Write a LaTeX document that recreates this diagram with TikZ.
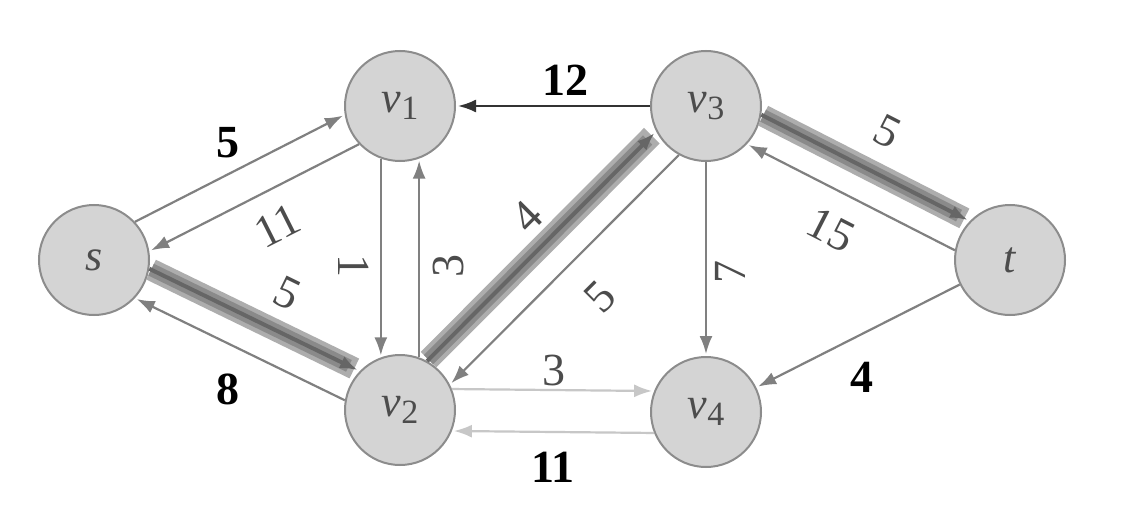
\documentclass[tikz,border=0pt]{standalone}
\usepackage{fontspec}
\setmainfont{Liberation Serif}
\usetikzlibrary{arrows.meta}
\begin{document}
\begin{tikzpicture}[x=0.5pt,y=-0.5pt,
  vert/.style={circle,draw=black!45,line width=1pt,fill=black!17,minimum size=55pt,inner sep=0pt,text=black!70,font=\fontsize{22}{22}\selectfont\itshape},
  tip/.style={-{Latex[length=9pt,width=6.5pt]}},
  thin/.style={draw=black!50,line width=1.1pt,tip,shorten >=1pt},
  pale/.style={draw=black!22,line width=1.1pt,tip,shorten >=1pt},
  darkline/.style={draw=black!80,line width=1.1pt,tip,shorten >=1pt},
  bandout/.style={draw=black!32,line width=11pt,shorten >=3pt,shorten <=1pt},
  bandmid/.style={draw=black!46,line width=6.5pt,shorten >=6pt,shorten <=1pt},
  bandcore/.style={draw=black!60,line width=2pt,tip,shorten >=1pt},
  glbl/.style={text=black!70,font=\fontsize{23}{23}\selectfont,inner sep=0pt},
  blbl/.style={text=black,font=\fontsize{23}{23}\selectfont\bfseries,inner sep=0pt}
]
\useasboundingbox (0,0) rectangle (1129,519);
\fill[white] (0,0) rectangle (1129,519);

% vertices
\node[vert] (s)  at (94,260)   {s};
\node[vert] (v1) at (400,106)  {v\raisebox{-0.35ex}{\fontsize{17}{17}\selectfont\upshape 1}};
\node[vert] (v2) at (400,410)  {v\raisebox{-0.35ex}{\fontsize{17}{17}\selectfont\upshape 2}};
\node[vert] (v3) at (706,106)  {v\raisebox{-0.35ex}{\fontsize{17}{17}\selectfont\upshape 3}};
\node[vert] (v4) at (706,412)  {v\raisebox{-0.35ex}{\fontsize{17}{17}\selectfont\upshape 4}};
\node[vert] (t)  at (1010,260) {t};

% highlighted (augmenting path) edges
\foreach \a/\b in {s.-9.1/v2.136.9, v2.61.8/v3.207.8, v3.-9.9/t.136.1}{
  \draw[bandout] (\a) -- (\b);
  \draw[bandmid] (\a) -- (\b);
  \draw[bandcore] (\a) -- (\b);
}

% thin edges
\draw[thin] (s.43.7) -- (v1.189.7);
\draw[thin] (v1.223.7) -- (s.9.7);
\draw[thin] (v2.170.9) -- (s.-43.1);
\draw[thin] (v1.250) -- (v2.110);
\draw[thin] (v2.70) -- (v1.290);
\draw[darkline] (v3.180) -- (v1.0);
\draw[thin] (v3.241.8) -- (v2.27.8);
\draw[thin] (v3.270) -- (v4.90);
\draw[thin] (t.170.1) -- (v3.-43.9);
\draw[thin] (t.206.6) -- (v4.26.6);
\draw[pale] (v2.22) -- (v4.158);
\draw[pale] (v4.202) -- (v2.-22);

% labels
\node[blbl] (l5a)  at (228,143) {5};
\node[glbl,rotate=26.7] (l11a) at (277,226) {11};
\node[glbl,rotate=-26] (l5b) at (287,293) {5};
\node[blbl] (l8)   at (228,389) {8};
\node[glbl,rotate=-90] (l1) at (354,266) {1};
\node[glbl,rotate=90] (l3a) at (448,266) {3};
\node[blbl] (l12)  at (565,80) {12};
\node[glbl,rotate=45] (l4a) at (527,217) {4};
\node[glbl,rotate=45] (l5c) at (600,297) {5};
\node[glbl,rotate=90] (l7) at (730,272) {7};
\node[glbl,rotate=-27] (l15) at (831,230) {15};
\node[glbl,rotate=-27] (l5d) at (887,132) {5};
\node[glbl] (l3b)  at (554,370) {3};
\node[blbl] (l11b) at (553,467) {11};
\node[blbl] (l4b)  at (862,377) {4};
\end{tikzpicture}
\end{document}
